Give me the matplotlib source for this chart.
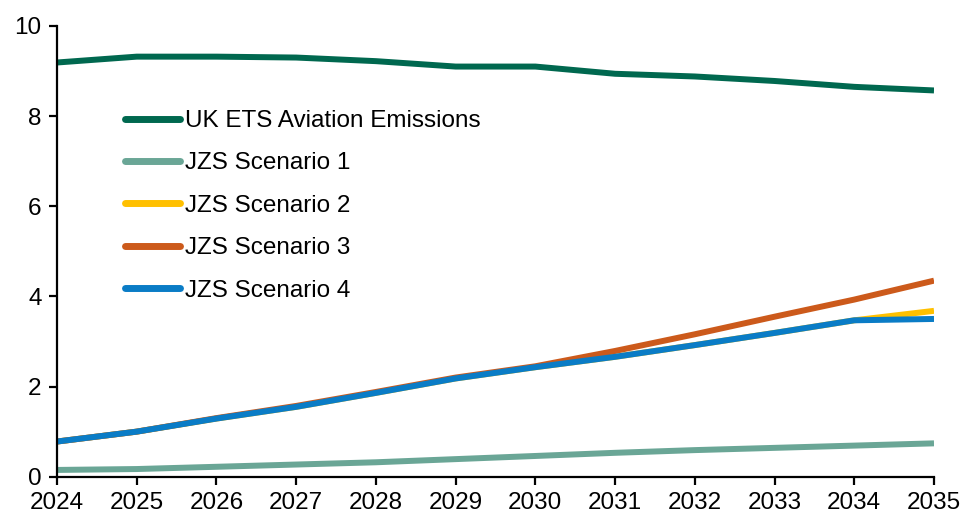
import matplotlib
matplotlib.use("Agg")
import matplotlib.pyplot as plt

years = [2024, 2025, 2026, 2027, 2028, 2029, 2030, 2031, 2032, 2033, 2034, 2035]
uk_ets = [9.19, 9.32, 9.32, 9.30, 9.22, 9.10, 9.10, 8.94, 8.88, 8.78, 8.65, 8.57]
jzs_1 = [0.15, 0.17, 0.22, 0.27, 0.32, 0.39, 0.46, 0.53, 0.59, 0.64, 0.69, 0.74]
jzs_2 = [0.78, 1.00, 1.29, 1.55, 1.86, 2.18, 2.43, 2.66, 2.92, 3.19, 3.47, 3.68]
jzs_3 = [0.78, 1.00, 1.30, 1.57, 1.88, 2.20, 2.45, 2.79, 3.16, 3.55, 3.93, 4.35]
jzs_4 = [0.78, 1.00, 1.29, 1.55, 1.86, 2.18, 2.43, 2.66, 2.92, 3.19, 3.47, 3.50]

labels = ["UK ETS Aviation Emissions", "JZS Scenario 1", "JZS Scenario 2",
          "JZS Scenario 3", "JZS Scenario 4"]
colors = ["#00684F", "#6AA696", "#FFC000", "#CC5A1B", "#0A7CC6"]

plt.rcParams['font.family'] = ['Liberation Sans', 'DejaVu Sans']

fig = plt.figure(figsize=(9.63, 5.13), dpi=100)
ax = fig.add_axes([57/963, 1-476.7/513, (934-57)/963, (476.7-26)/513])

series = [uk_ets, jzs_1, jzs_2, jzs_3, jzs_4]
for s, lab, c in zip(series, labels, colors):
    ax.plot(years, s, color=c, lw=4.3, label=lab, solid_capstyle='butt')

ax.set_xlim(2024, 2035)
ax.set_ylim(0, 10)
ax.set_xticks(years)
ax.set_xticklabels([str(y) for y in years])
ax.set_yticks([0, 2, 4, 6, 8, 10])
for sp in ['top', 'right']:
    ax.spines[sp].set_visible(False)
for sp in ['left', 'bottom']:
    ax.spines[sp].set_linewidth(1.6)
    ax.spines[sp].set_color('black')
ax.tick_params(axis='both', direction='out', length=6, width=1.6, labelsize=17.5,
               colors='black', pad=5)

leg = ax.legend(loc='upper left', bbox_to_anchor=(125/963, 1-110/513),
                bbox_transform=fig.transFigure, frameon=False, fontsize=17.5,
                handlelength=2.25, handletextpad=0.2, labelspacing=0.84,
                borderpad=0, borderaxespad=0)
for line in leg.get_lines():
    line.set_linewidth(5)
    line.set_solid_capstyle('round')

fig.savefig("out.png", dpi=100)
